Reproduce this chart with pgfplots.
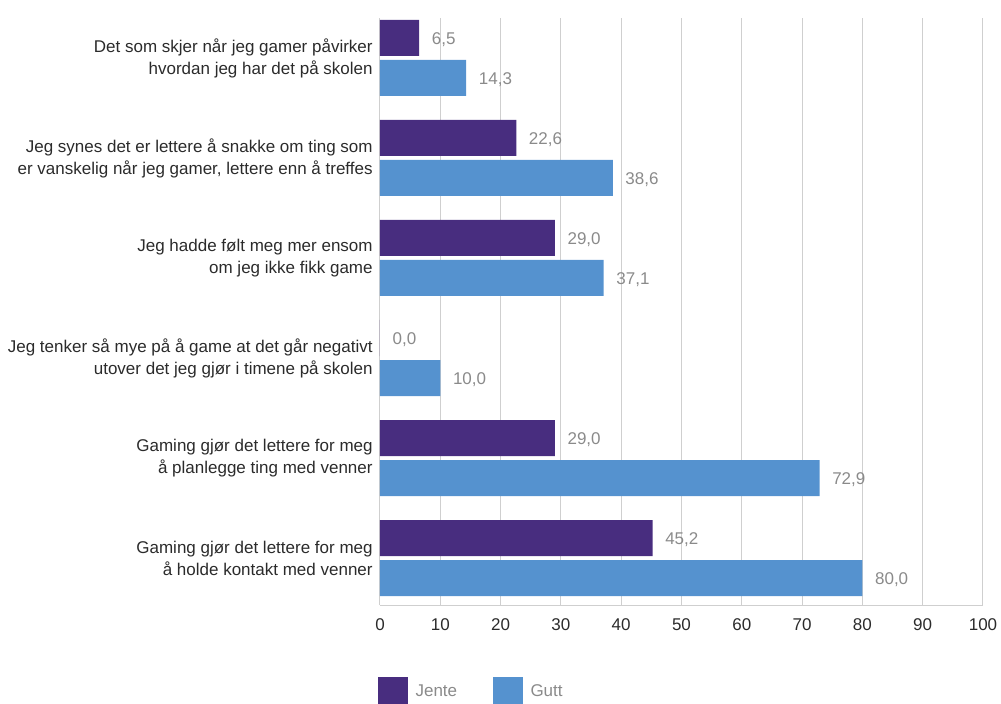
\documentclass[border=0pt]{standalone}
\usepackage{fontspec}
\setmainfont{Liberation Sans}
\usepackage{pgfplots}
\pgfplotsset{compat=1.18}
\definecolor{jente}{HTML}{482D7F}
\definecolor{gutt}{HTML}{5592CF}
\definecolor{gridc}{HTML}{CFCFCF}
\definecolor{valc}{HTML}{8A8A8A}
\definecolor{txt}{HTML}{2B2B2B}
\newcommand{\lf}{\fontsize{12.75}{16.5}\selectfont}
\begin{document}
\begin{tikzpicture}
\path[use as bounding box] (-285pt,-74.25pt) rectangle (465.75pt,453.75pt);
\begin{axis}[
  at={(0pt,0pt)}, anchor=south west,
  scale only axis, width=452.25pt, height=440.25pt,
  xbar, bar width=0.36,
  xmin=0, xmax=100, ymin=-0.47, ymax=5.40,
  xtick={0,10,...,100}, ytick={0,...,5},
  yticklabels={
    {Gaming gjør det lettere for meg\\å holde kontakt med venner},
    {Gaming gjør det lettere for meg\\å planlegge ting med venner},
    {Jeg tenker så mye på å game at det går negativt\\utover det jeg gjør i timene på skolen},
    {Jeg hadde følt meg mer ensom\\om jeg ikke fikk game},
    {Jeg synes det er lettere å snakke om ting som\\er vanskelig når jeg gamer, lettere enn å treffes},
    {Det som skjer når jeg gamer påvirker\\hvordan jeg har det på skolen}},
  /pgf/number format/assume math mode=true,
  axis x line*=bottom, axis y line*=left,
  x axis line style={gridc, -, line width=0.75pt},
  y axis line style={draw=none},
  xmajorgrids, grid style={gridc, line width=0.75pt},
  major tick length=0pt,
  xticklabel style={font=\lf, text=txt, yshift=-7pt},
  yticklabel style={font=\lf, text=txt, align=right, xshift=-2pt},
  nodes near coords={\pgfmathprintnumber[fixed,fixed zerofill,precision=1,use comma]{\pgfplotspointmeta}},
  nodes near coords style={font=\lf, text=valc, anchor=west, xshift=6pt, yshift=-1.5pt},
  legend columns=2,
  legend style={at={(axis description cs:0,0)}, anchor=west, xshift=-1.5pt, yshift=-65.25pt,
    draw=none, fill=none, font=\lf, text=valc, inner sep=0pt,
    nodes={inner sep=0pt},
    /tikz/every odd column/.append style={column sep=5.5pt},
    /tikz/every even column/.append style={column sep=27pt}},
  legend image code/.code={\fill[#1] (0pt,-11.25pt) rectangle (22.5pt,11.25pt);},
]
\addplot[fill=jente, draw=none, bar shift=0.2] coordinates {
  (45.2,0) (29.0,1) (0.0,2) (29.0,3) (22.6,4) (6.5,5)};
\addplot[fill=gutt, draw=none, bar shift=-0.2] coordinates {
  (80.0,0) (72.9,1) (10.0,2) (37.1,3) (38.6,4) (14.3,5)};
\legend{Jente, Gutt}
\end{axis}
\end{tikzpicture}
\end{document}
